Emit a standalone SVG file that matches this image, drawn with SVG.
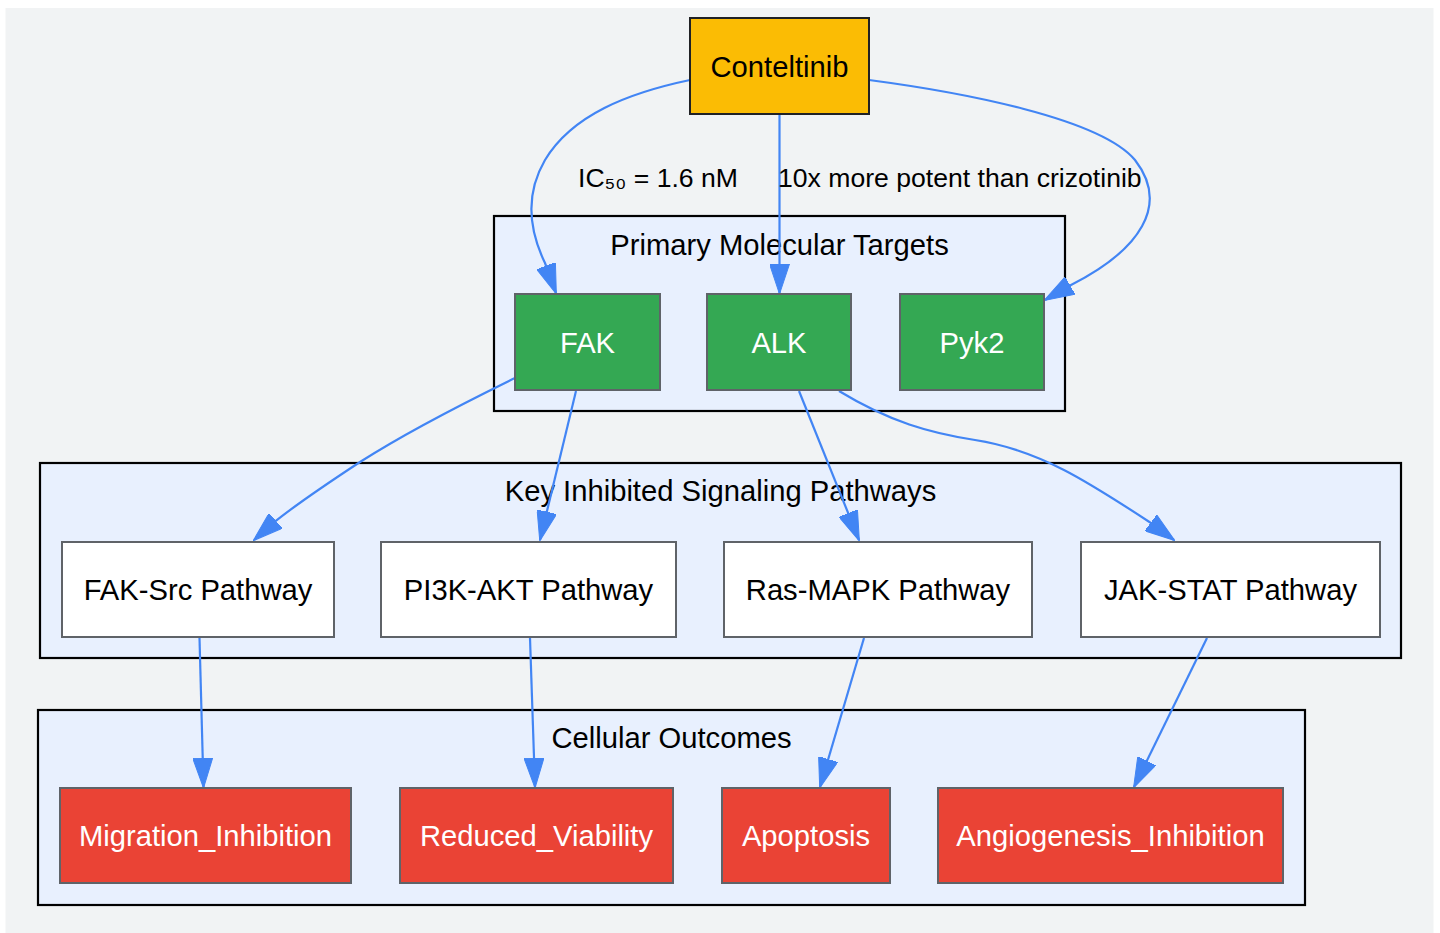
<svg xmlns="http://www.w3.org/2000/svg" width="1440" height="933" viewBox="0 0 1440 933">
<defs>
<style>
.lbl{font-family:"Liberation Sans",Arial,sans-serif;font-size:29.2px;text-anchor:middle}
.elbl{font-family:"Liberation Sans",Arial,sans-serif;font-size:26.6px;fill:#000}
.cl{fill:#E8F0FE;stroke:#000;stroke-width:2.2}
.tgt{fill:#34A853;stroke:#5F6368;stroke-width:2}
.pw{fill:#FFFFFF;stroke:#5F6368;stroke-width:2}
.out{fill:#EA4335;stroke:#5F6368;stroke-width:2}
.w{fill:#FFFFFF}
.b{fill:#000000}
.e{fill:none;stroke:#4285F4;stroke-width:2.2;marker-end:url(#ah)}
</style>
<marker id="ah" markerUnits="userSpaceOnUse" markerWidth="30" markerHeight="20" viewBox="0 0 30 20" refX="29" refY="10" orient="auto">
<path d="M0,0 L30,10 L0,20 z" fill="#4285F4" stroke="#4285F4" stroke-width="1"/>
</marker>
</defs>
<rect x="0" y="0" width="1440" height="933" fill="#FFFFFF"/>
<rect x="5.5" y="8" width="1428" height="926" fill="#F1F3F4"/>

<g id="cluster_targets">
<rect class="cl" x="494" y="216" width="571" height="195"/>
<text class="lbl b" x="779.5" y="255">Primary Molecular Targets</text>
</g>
<g id="cluster_pathways">
<rect class="cl" x="40" y="463" width="1361" height="195"/>
<text class="lbl b" x="720.5" y="501">Key Inhibited Signaling Pathways</text>
</g>
<g id="cluster_outcomes">
<rect class="cl" x="38" y="710" width="1267" height="195"/>
<text class="lbl b" x="671.5" y="748">Cellular Outcomes</text>
</g>

<g id="connectors">
<path class="e" d="M690,80 C628,93 572,115 545,160 C524,196 530,232 545,263 L556,293"/>
<path class="e" d="M779.5,114 L779.5,293"/>
<path class="e" d="M869,80 C960,92 1100,118 1135,160 C1170,205 1140,250 1071,285 L1045,300"/>
<path class="e" d="M515,378 C470,400 410,430 360,462 C325,485 295,505 272,524 L254,540"/>
<path class="e" d="M576,391 L540,540"/>
<path class="e" d="M799,391 L859,540"/>
<path class="e" d="M839,391 C890,422 930,433 975,440 C1040,450 1090,483 1151,523 L1174,540"/>
<path class="e" d="M199.5,638 L203.5,787"/>
<path class="e" d="M530,638 L535,787"/>
<path class="e" d="M864,638 L820,787"/>
<path class="e" d="M1207,638 L1134,787"/>
<text class="elbl" x="578" y="187">IC₅₀ = 1.6 nM</text>
<text class="elbl" x="778" y="187">10x more potent than crizotinib</text>
</g>

<g id="Conteltinib">
<rect x="690" y="18" width="179" height="96" fill="#FBBC04" stroke="#202124" stroke-width="2"/>
<text class="lbl b" x="779.5" y="76.5">Conteltinib</text>
</g>
<g id="FAK">
<rect class="tgt" x="515" y="294" width="145" height="96"/>
<text class="lbl w" x="587.5" y="352.5">FAK</text>
</g>
<g id="ALK">
<rect class="tgt" x="707" y="294" width="144" height="96"/>
<text class="lbl w" x="779" y="352.5">ALK</text>
</g>
<g id="Pyk2">
<rect class="tgt" x="900" y="294" width="144" height="96"/>
<text class="lbl w" x="972" y="352.5">Pyk2</text>
</g>

<g id="FAK_Src">
<rect class="pw" x="62" y="542" width="272" height="95"/>
<text class="lbl b" x="198" y="599.5">FAK-Src Pathway</text>
</g>
<g id="PI3K_AKT">
<rect class="pw" x="381" y="542" width="295" height="95"/>
<text class="lbl b" x="528.5" y="599.5">PI3K-AKT Pathway</text>
</g>
<g id="Ras_MAPK">
<rect class="pw" x="724" y="542" width="308" height="95"/>
<text class="lbl b" x="878" y="599.5">Ras-MAPK Pathway</text>
</g>
<g id="JAK_STAT">
<rect class="pw" x="1081" y="542" width="299" height="95"/>
<text class="lbl b" x="1230.5" y="599.5">JAK-STAT Pathway</text>
</g>

<g id="Migration_Inhibition">
<rect class="out" x="60" y="788" width="291" height="95"/>
<text class="lbl w" x="205.5" y="846">Migration_Inhibition</text>
</g>
<g id="Reduced_Viability">
<rect class="out" x="400" y="788" width="273" height="95"/>
<text class="lbl w" x="536.5" y="846">Reduced_Viability</text>
</g>
<g id="Apoptosis">
<rect class="out" x="722" y="788" width="168" height="95"/>
<text class="lbl w" x="806" y="846">Apoptosis</text>
</g>
<g id="Angiogenesis_Inhibition">
<rect class="out" x="938" y="788" width="345" height="95"/>
<text class="lbl w" x="1110.5" y="846">Angiogenesis_Inhibition</text>
</g>
</svg>
